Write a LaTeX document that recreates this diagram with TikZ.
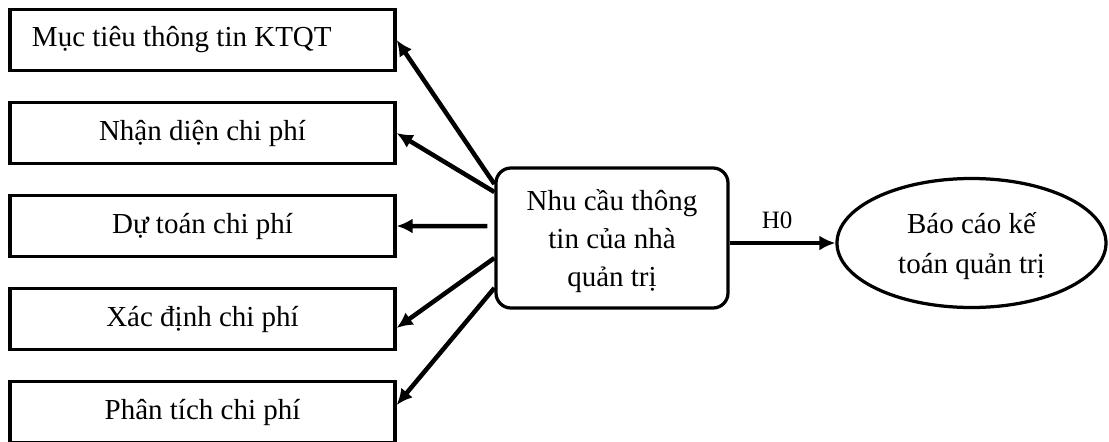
\documentclass[tikz,border=0pt]{standalone}
\usepackage{fontspec}
\setmainfont{Liberation Serif}
\usetikzlibrary{positioning,shapes.geometric,arrows.meta}

\begin{document}
\begin{tikzpicture}[auto, on grid, node distance=37.2pt, x=0.4pt, y=-0.4pt, line width=1.3pt,
        muc/.style={draw, rectangle, minimum width=154pt, minimum height=24.4pt, inner sep=0pt, font=\fontsize{11.6}{14}\selectfont},
        need/.style={draw, rectangle, rounded corners=6pt, minimum width=92.8pt, minimum height=56pt, text depth=0pt, align=center, font=\fontsize{11.6}{15.2}\selectfont},
        bao/.style={draw, ellipse, minimum width=107.6pt, minimum height=51.6pt, inner sep=0pt, text depth=0pt, align=center, font=\fontsize{11.6}{16}\selectfont},
        conn/.style={line width=1.8pt, -{Latex[length=6.4pt, width=6pt]}}]
            \useasboundingbox (0,0) rectangle (1109,441);

            \node[muc, inner xsep=8.8pt, text width=136.4pt, align=flush left] (m1) at (202.5,40) {Mục tiêu thông tin KTQT};
            \node[muc, below=of m1] (m2) {Nhận diện chi phí};
            \node[muc, below=of m2] (m3) {Dự toán chi phí};
            \node[muc, below=of m3] (m4) {Xác định chi phí};
            \node[muc, below=of m4] (m5) {Phân tích chi phí};

            \node[need] (need) at (612,238) {Nhu cầu thông\\tin của nhà\\quản trị};
            \node[bao] (bao) at (971.5,243) {Báo cáo kế\\toán quản trị};

            \path[conn] ([yshift=21.6pt]need.west) edge (m1.east);
            \path[conn] ([yshift=18.4pt]need.west) edge (m2.east);
            \path[conn] ([xshift=-2.8pt,yshift=4.8pt]need.west) edge (m3.east);
            \path[conn] ([yshift=-8pt]need.west) edge ([yshift=-3.6pt]m4.east);
            \path[conn] ([yshift=-20pt]need.west) edge ([yshift=2.8pt]m5.east);
            \path[conn] (need.east |- bao) edge node[above=1.5pt, pos=0.45, font=\fontsize{10}{12}\selectfont] {H0} (bao);
        \end{tikzpicture}
\end{document}
